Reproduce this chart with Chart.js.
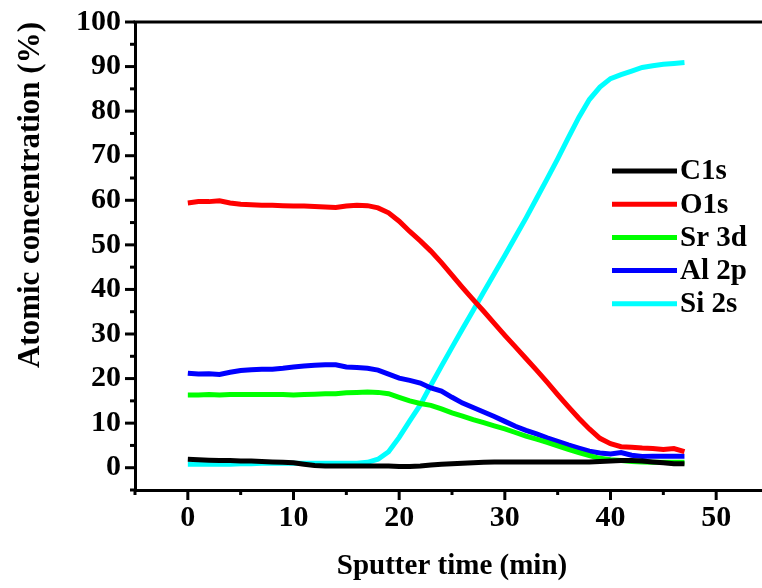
<!DOCTYPE html>
<html>
<head>
<meta charset="utf-8">
<script src="https://cdn.jsdelivr.net/npm/chart.js@4.4.1/dist/chart.umd.min.js"></script>
<style>
html, body { margin: 0; padding: 0; background: #fff; overflow: hidden; }
#wrap { width: 762px; height: 588px; overflow: hidden; }
</style>
</head>
<body>
<div id="wrap"><canvas id="depthChart" width="770" height="588"></canvas></div>
<script>
// sputter time (min)
const sputterTime = [0, 1, 2, 3, 4, 5, 6, 7, 8, 9, 10, 11, 12, 13, 14, 15, 16, 17, 18, 19, 20, 21, 22, 23,
    24, 25, 26, 27, 28, 29, 30, 31, 32, 33, 34, 35, 36, 37, 38, 39, 40, 41, 42, 43, 44, 45, 46, 47];

// atomic concentration (%)
const c1s = [1.9, 1.8, 1.7, 1.6, 1.6, 1.5, 1.5, 1.4, 1.3, 1.2, 1.1, 0.8, 0.5, 0.4, 0.4, 0.4, 0.4, 0.4, 0.4, 0.4, 0.3, 0.3, 0.4, 0.6,
    0.8, 0.9, 1.0, 1.1, 1.2, 1.3, 1.3, 1.3, 1.3, 1.3, 1.3, 1.3, 1.3, 1.3, 1.3, 1.4, 1.5, 1.6, 1.6, 1.5, 1.3, 1.1, 0.9, 0.9];
const o1s = [59.4, 59.7, 59.7, 59.9, 59.4, 59.1, 59.0, 58.9, 58.9, 58.8, 58.7, 58.7, 58.6, 58.5, 58.4, 58.7, 58.9, 58.8, 58.3, 57.2, 55.3, 53.0, 50.9, 48.6,
    46.0, 43.2, 40.4, 37.7, 35.1, 32.4, 29.7, 27.1, 24.5, 21.9, 19.2, 16.4, 13.7, 11.1, 8.7, 6.6, 5.4, 4.7, 4.6, 4.4, 4.3, 4.1, 4.3, 3.6];
const sr3d = [16.3, 16.3, 16.4, 16.3, 16.4, 16.4, 16.4, 16.4, 16.4, 16.4, 16.3, 16.4, 16.5, 16.6, 16.6, 16.8, 16.9, 17.0, 16.9, 16.6, 15.8, 15.0, 14.4, 14.0,
    13.2, 12.3, 11.6, 10.8, 10.1, 9.4, 8.7, 7.9, 7.1, 6.4, 5.7, 4.9, 4.1, 3.4, 2.7, 2.1, 1.8, 1.6, 1.4, 1.3, 1.2, 1.2, 1.2, 1.2];
const al2p = [21.2, 21.0, 21.1, 20.9, 21.4, 21.8, 22.0, 22.1, 22.1, 22.3, 22.6, 22.8, 23.0, 23.1, 23.1, 22.6, 22.5, 22.3, 21.9, 21.0, 20.1, 19.6, 19.0, 17.9,
    17.2, 15.8, 14.5, 13.5, 12.5, 11.5, 10.4, 9.3, 8.4, 7.6, 6.7, 5.9, 5.1, 4.4, 3.7, 3.3, 3.1, 3.4, 2.8, 2.5, 2.6, 2.6, 2.6, 2.6];
const si2s = [0.8, 0.8, 0.8, 0.8, 0.8, 0.9, 0.9, 1.0, 1.0, 1.0, 1.0, 1.0, 1.0, 1.0, 1.0, 1.0, 1.0, 1.2, 1.9, 3.6, 6.8, 10.5, 14.1, 18.5,
    22.8, 27.0, 31.2, 35.3, 39.4, 43.5, 47.6, 51.8, 56.0, 60.4, 64.8, 69.3, 74.0, 78.6, 82.6, 85.4, 87.3, 88.2, 89.0, 89.8, 90.2, 90.5, 90.7, 90.9];

const seriesNames = ['C1s', 'O1s', 'Sr 3d', 'Al 2p', 'Si 2s'];
const seriesColors = ['#000000', '#ff0000', '#00ff00', '#0000ff', '#00ffff'];
const seriesValues = [c1s, o1s, sr3d, al2p, si2s];

const serif = "'Liberation Serif', 'Times New Roman', serif";

// axis ticks: long at labelled values, short in between
const tickMarks = {
    id: 'tickMarks',
    afterDraw(chart) {
        const { ctx, chartArea, scales } = chart;
        ctx.save();
        ctx.strokeStyle = '#000';
        ctx.lineWidth = 3;
        scales.x.ticks.forEach(t => {
            const px = scales.x.getPixelForValue(t.value);
            const len = t.value % 10 === 0 ? 10 : 5;
            ctx.beginPath();
            ctx.moveTo(px, chartArea.bottom);
            ctx.lineTo(px, chartArea.bottom + len);
            ctx.stroke();
        });
        scales.y.ticks.forEach(t => {
            const py = scales.y.getPixelForValue(t.value);
            const len = (t.value >= 0 && t.value % 10 === 0) ? 10 : 5;
            ctx.beginPath();
            ctx.moveTo(chartArea.left, py);
            ctx.lineTo(chartArea.left - len, py);
            ctx.stroke();
        });
        // top frame line
        ctx.beginPath();
        ctx.moveTo(chartArea.left - 1.5, chartArea.top);
        ctx.lineTo(chartArea.right, chartArea.top);
        ctx.stroke();
        ctx.restore();
    }
};

// legend sitting inside the plot, right side
const insideLegend = {
    id: 'insideLegend',
    afterDatasetsDraw(chart) {
        const { ctx } = chart;
        ctx.save();
        ctx.font = 'bold 29px ' + serif;
        ctx.textBaseline = 'middle';
        ctx.fillStyle = '#000';
        chart.data.datasets.forEach((ds, i) => {
            const y = 171 + i * 33.2;
            ctx.strokeStyle = ds.borderColor;
            ctx.lineWidth = 5;
            ctx.beginPath();
            ctx.moveTo(612, y);
            ctx.lineTo(677, y);
            ctx.stroke();
            ctx.fillText(ds.label, 680, y + 1);
        });
        ctx.restore();
    }
};

const ctx = document.getElementById('depthChart').getContext('2d');
const depthChart = new Chart(ctx, {
    type: 'line',
    data: {
        datasets: seriesNames.map((name, i) => ({
            label: name,
            data: sputterTime.map((t, k) => ({ x: t, y: seriesValues[i][k] })),
            borderColor: seriesColors[i],
            backgroundColor: seriesColors[i],
            borderWidth: 5,
            pointRadius: 0,
            tension: 0,
            fill: false
        }))
    },
    options: {
        responsive: false,
        animation: false,
        devicePixelRatio: 1,
        layout: { padding: { top: 22, right: 1, bottom: 0, left: 0 } },
        plugins: {
            legend: { display: false },
            tooltip: { enabled: false }
        },
        scales: {
            x: {
                type: 'linear',
                min: -5,
                max: 55,
                afterFit: s => { s.height = 98; s.paddingLeft = 0; s.paddingRight = 0; },
                grid: { drawOnChartArea: false, drawTicks: false },
                border: { display: true, color: '#000', width: 3 },
                ticks: {
                    stepSize: 5,
                    autoSkip: false,
                    maxRotation: 0,
                    minRotation: 0,
                    padding: 10,
                    color: '#000',
                    font: { family: serif, size: 30, weight: 'bold' },
                    callback: v => (v % 10 === 0 ? v : '')
                },
                title: {
                    display: true,
                    text: 'Sputter time (min)',
                    color: '#000',
                    font: { family: serif, size: 29, weight: 'bold' },
                    padding: { top: 0, bottom: 4 }
                }
            },
            y: {
                min: -5,
                max: 100,
                afterFit: s => { s.width = 135; s.paddingTop = 0; s.paddingBottom = 0; },
                grid: { drawOnChartArea: false, drawTicks: false },
                border: { display: true, color: '#000', width: 3 },
                ticks: {
                    stepSize: 5,
                    autoSkip: false,
                    padding: 14,
                    color: '#000',
                    font: { family: serif, size: 30, weight: 'bold' },
                    callback: v => (v >= 0 && v % 10 === 0 ? v : '')
                },
                title: {
                    display: true,
                    text: 'Atomic concentration (%)',
                    align: 'end',
                    color: '#000',
                    font: { family: serif, size: 31, weight: 'bold' },
                    padding: { top: 12, bottom: 0 }
                }
            }
        }
    },
    plugins: [tickMarks, insideLegend]
});
</script>
</body>
</html>
